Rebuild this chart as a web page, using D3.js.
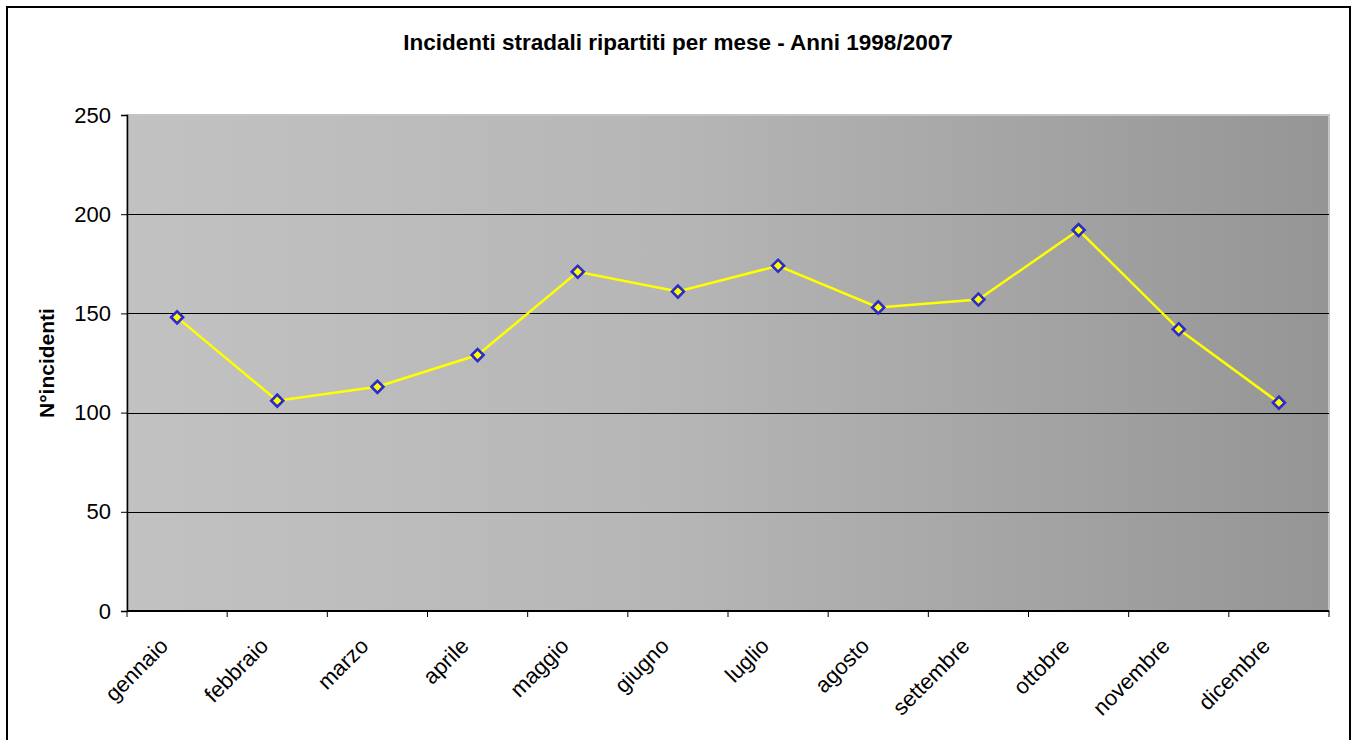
<!DOCTYPE html>
<html>
<head>
<meta charset="utf-8">
<script src="https://cdn.jsdelivr.net/npm/d3@7"></script>
<style>
  body { margin: 0; background: #fff; }
  text { font-family: "Liberation Sans", Arial, sans-serif; }
</style>
</head>
<body>
<div id="chart"></div>
<script>
// data
var mesi = ["gennaio", "febbraio", "marzo", "aprile", "maggio", "giugno",
            "luglio", "agosto", "settembre", "ottobre", "novembre", "dicembre"];
var incidenti = [148, 106, 113, 129, 171, 161, 174, 153, 157, 192, 142, 105];
var yTicks = [0, 50, 100, 150, 200, 250];

var width = 1356, height = 740;
var margin = { top: 115, right: 27, bottom: 129, left: 127 };
var chartWidth = width - margin.left - margin.right;
var chartHeight = height - margin.top - margin.bottom;

var svg = d3.select("#chart").append("svg")
    .attr("width", width)
    .attr("height", height);

// outer border
svg.append("rect")
    .attr("x", 7).attr("y", 7)
    .attr("width", width - 13).attr("height", height - 6)
    .attr("fill", "none")
    .attr("stroke", "#000")
    .attr("stroke-width", 2);

var defs = svg.append("defs");
var grad = defs.append("linearGradient").attr("id", "bg")
    .attr("x1", "0%").attr("x2", "100%").attr("y1", "0%").attr("y2", "0%");
grad.append("stop").attr("offset", "0%").attr("stop-color", "#c2c2c2");
grad.append("stop").attr("offset", "45%").attr("stop-color", "#b6b6b6");
grad.append("stop").attr("offset", "100%").attr("stop-color", "#959595");

svg.append("text")
    .attr("x", 678).attr("y", 50)
    .attr("text-anchor", "middle")
    .style("font-size", "22.5px")
    .attr("font-weight", "bold")
    .text("Incidenti stradali ripartiti per mese - Anni 1998/2007");

var g = svg.append("g")
    .attr("transform", "translate(" + margin.left + "," + margin.top + ")");

var x = d3.scaleBand().domain(mesi).range([0, chartWidth]);
var y = d3.scaleLinear().domain([0, 250]).range([chartHeight, 0]);

// plot area
g.append("rect")
    .attr("width", chartWidth).attr("height", chartHeight)
    .attr("fill", "url(#bg)")
    .attr("stroke", "#c4c4c4")
    .attr("stroke-width", 2);

// grid lines
g.selectAll(".grid")
    .data(yTicks.filter(d => d > 0 && d < 250))
    .enter().append("line")
    .attr("x1", 0).attr("x2", chartWidth)
    .attr("y1", d => Math.round(y(d)) + 0.5)
    .attr("y2", d => Math.round(y(d)) + 0.5)
    .attr("stroke", "#000")
    .attr("stroke-width", 1);

// y axis
var yAxis = d3.axisLeft(y).tickValues(yTicks).tickSize(6).tickPadding(10);
var yg = g.append("g").call(yAxis);
yg.select(".domain").attr("stroke", "#000").attr("stroke-width", 1.5);
yg.selectAll("text").style("font-size", "22px").attr("fill", "#000")
    .style("font-family", "Liberation Sans, Arial, sans-serif");

// x axis
g.append("line")
    .attr("x1", 0).attr("x2", chartWidth)
    .attr("y1", chartHeight).attr("y2", chartHeight)
    .attr("stroke", "#000").attr("stroke-width", 2);

var bounds = d3.range(mesi.length + 1).map(i => i * x.step());
g.selectAll(".xtick")
    .data(bounds)
    .enter().append("line")
    .attr("x1", d => d).attr("x2", d => d)
    .attr("y1", chartHeight).attr("y2", chartHeight + 6)
    .attr("stroke", "#000");

g.selectAll(".xlabel")
    .data(mesi)
    .enter().append("text")
    .attr("transform", d => "translate(" + (x(d) + x.bandwidth() / 2 - 13) + "," + (chartHeight + 31) + ") rotate(-45)")
    .attr("text-anchor", "end")
    .attr("dy", "0.35em")
    .style("font-size", "22px")
    .text(d => d);

// y label
svg.append("text")
    .attr("transform", "translate(54," + (margin.top + chartHeight / 2) + ") rotate(-90)")
    .attr("text-anchor", "middle")
    .style("font-size", "21px")
    .attr("font-weight", "bold")
    .text("N°incidenti");

// line
var line = d3.line()
    .x((d, i) => x(mesi[i]) + x.bandwidth() / 2)
    .y(d => y(d));

g.append("path")
    .datum(incidenti)
    .attr("d", line)
    .attr("fill", "none")
    .attr("stroke", "#ffff00")
    .attr("stroke-width", 2.5);

g.selectAll(".pt")
    .data(incidenti)
    .enter().append("path")
    .attr("d", d3.symbol().type(d3.symbolSquare).size(72))
    .attr("transform", (d, i) => "translate(" + (x(mesi[i]) + x.bandwidth() / 2) + "," + y(d) + ") rotate(45)")
    .attr("fill", "#ffff00")
    .attr("stroke", "#2b2bcc")
    .attr("stroke-width", 2.6);
</script>
</body>
</html>
